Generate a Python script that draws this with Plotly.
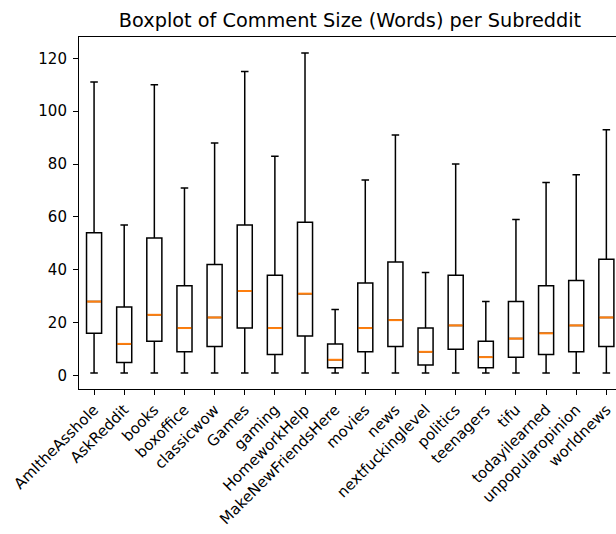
import plotly.graph_objects as go

# Comment length statistics (words) per subreddit
subreddits = ["AmItheAsshole", "AskReddit", "books", "boxoffice", "classicwow", "Games",
              "gaming", "HomeworkHelp", "MakeNewFriendsHere", "movies", "news",
              "nextfuckinglevel", "politics", "teenagers", "tifu", "todayilearned",
              "unpopularopinion", "worldnews"]
whisker_low = [1, 1, 1, 1, 1, 1, 1, 1, 1, 1, 1, 1, 1, 1, 1, 1, 1, 1]
q1 = [16, 5, 13, 9, 11, 18, 8, 15, 3, 9, 11, 4, 10, 3, 7, 8, 9, 11]
median = [28, 12, 23, 18, 22, 32, 18, 31, 6, 18, 21, 9, 19, 7, 14, 16, 19, 22]
q3 = [54, 26, 52, 34, 42, 57, 38, 58, 12, 35, 43, 18, 38, 13, 28, 34, 36, 44]
whisker_high = [111, 57, 110, 71, 88, 115, 83, 122, 25, 74, 91, 39, 80, 28, 59, 73, 76, 93]

positions = list(range(1, len(subreddits) + 1))
box_width = 0.5
lw = 1.5

fig = go.Figure()
fig.add_trace(go.Box(
    x=positions, q1=q1, median=median, q3=q3,
    lowerfence=whisker_low, upperfence=whisker_high,
    width=box_width, whiskerwidth=0.5,
    fillcolor="rgba(255,255,255,0)",
    line=dict(color="black", width=lw),
    boxpoints=False, showlegend=False, hoverinfo="skip",
))

# orange median lines drawn over the boxes
mx, my = [], []
for p, m in zip(positions, median):
    mx += [p - box_width / 2 + 0.02, p + box_width / 2 - 0.02, None]
    my += [m, m, None]
fig.add_trace(go.Scatter(x=mx, y=my, mode="lines",
                         line=dict(color="#ff7f0e", width=2),
                         showlegend=False, hoverinfo="skip"))

font = "DejaVu Sans"
fig.update_layout(
    width=616, height=534,
    margin=dict(l=79, r=0, t=37, b=145),
    plot_bgcolor="white", paper_bgcolor="white",
    font=dict(family=font, size=15, color="black"),
    title=dict(text="Boxplot of Comment Size (Words) per Subreddit",
               x=350 / 616, xref="container", xanchor="center",
               y=1 - 20 / 534, yref="container", yanchor="middle",
               font=dict(family=font, size=19.3, color="black")),
    xaxis=dict(range=[0.5, 18.32], tickmode="array", tickvals=positions,
               ticktext=subreddits, tickangle=-45, ticks="outside",
               ticklen=5, tickwidth=1.1, tickcolor="black",
               showline=True, linecolor="black", linewidth=1.1, mirror=True,
               showgrid=False, zeroline=False),
    yaxis=dict(range=[-5.05, 128.05], tickvals=[0, 20, 40, 60, 80, 100, 120],
               ticks="outside", ticklen=5, tickwidth=1.1, tickcolor="black",
               ticklabelstandoff=3,
               showline=True, linecolor="black", linewidth=1.1, mirror=False,
               showgrid=False, zeroline=False),
)

fig.write_html("out.html")
